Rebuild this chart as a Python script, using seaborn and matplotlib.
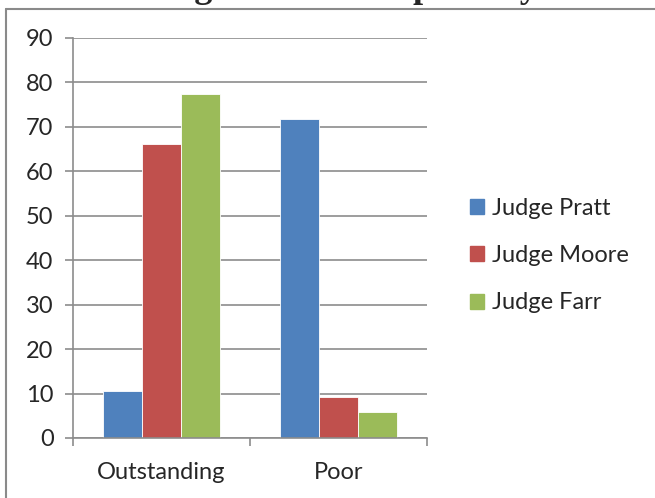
import pandas as pd
import numpy as np
import matplotlib
matplotlib.use('Agg')
import matplotlib.pyplot as plt
import seaborn as sns
from matplotlib.patches import Rectangle
from matplotlib.lines import Line2D

# ==================== 数据 ====================
categories = ['Outstanding', 'Poor']
judges = ['Judge Pratt', 'Judge Moore', 'Judge Farr']
pratt = [10.5, 71.8]
moore = [66.1, 9.2]
farr = [77.3, 5.9]
colors = ['#4F81BD', '#C0504D', '#9BBB59']
y_ticks = [0, 10, 20, 30, 40, 50, 60, 70, 80, 90]

df = pd.DataFrame({
    'rating': categories * 3,
    'judge': [judges[0]] * 2 + [judges[1]] * 2 + [judges[2]] * 2,
    'score': pratt + moore + farr,
})

sns.set_style('white')
plt.rcParams['font.family'] = ['Lato', 'DejaVu Sans']

fig = plt.figure(figsize=(6.55, 4.98), dpi=100)
ax = fig.add_axes([0.1115, 0.1205, 0.5405, 0.8032])

sns.barplot(data=df, x='rating', y='score', hue='judge', hue_order=judges,
            palette=colors, saturation=1, width=0.66, edgecolor='white',
            linewidth=0.6, ax=ax, legend=False)

ax.set_ylim(0, 90)
ax.set_xlim(-0.5, 1.5)
ax.set_yticks(y_ticks)
ax.yaxis.grid(True, color='#8c8c8c', linewidth=1.2)
ax.set_axisbelow(True)
ax.set_xlabel('')
ax.set_ylabel('')

for s in ['top', 'right']:
    ax.spines[s].set_visible(False)
for s in ['left', 'bottom']:
    ax.spines[s].set_color('#8c8c8c')
    ax.spines[s].set_linewidth(1.2)

ax.tick_params(axis='y', length=6, color='#8c8c8c', width=1.2, labelsize=17, pad=8, left=True)
ax.tick_params(axis='x', which='major', length=0, labelsize=17, pad=17)
ax.set_xticks([-0.5, 0.5, 1.5], minor=True)
ax.tick_params(axis='x', which='minor', length=6, color='#8c8c8c', width=1.2, bottom=True)

# 图例
handles = [Rectangle((0, 0), 1, 1, color=c) for c in colors]
fig.legend(handles, judges, loc='center left', bbox_to_anchor=(0.718, 0.487),
           frameon=False, fontsize=17, handlelength=0.6, handleheight=0.6,
           handletextpad=0.3, labelspacing=1.12, borderpad=0, borderaxespad=0)

# 外框 (只见左边和上边)
x0, y0 = 5.5 / 655, 1 - 9 / 498
fig.add_artist(Line2D([x0, x0], [0, y0], transform=fig.transFigure,
                      color='#8a8a8a', linewidth=1.5))
fig.add_artist(Line2D([x0, 1], [y0, y0], transform=fig.transFigure,
                      color='#8a8a8a', linewidth=1.5))

# 标题(被裁切)
fig.text(0.515, 1 + 3 / 498, 'Judge Scores \u2013 Popularity', ha='center', va='baseline',
         fontsize=26, fontweight='bold', family=['Liberation Serif', 'DejaVu Serif'])

fig.savefig('out.png', dpi=100)
